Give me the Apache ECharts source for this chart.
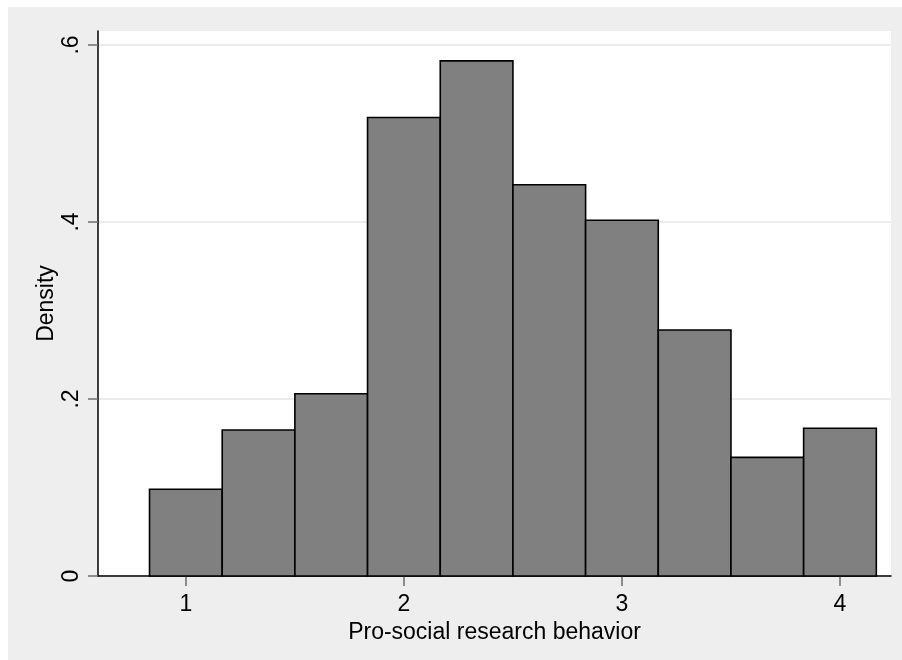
<!DOCTYPE html>
<html>
<head>
<meta charset="utf-8">
<script src="https://cdn.jsdelivr.net/npm/echarts@6/dist/echarts.min.js"></script>
<style>
html,body{margin:0;padding:0;background:#fff;}
#chart{width:902px;height:660px;}
</style>
</head>
<body>
<div id="chart"></div>
<script>
// Histogram bins (lower edges), common bin width, densities
var binStarts = [0.8333, 1.1667, 1.5, 1.8333, 2.1667, 2.5, 2.8333, 3.1667, 3.5, 3.8333];
var binWidth = 0.3333;
var densities = [0.098, 0.165, 0.206, 0.518, 0.582, 0.442, 0.402, 0.278, 0.134, 0.167];
var xTicks = [1, 2, 3, 4];
var yTicks = [0, 0.2, 0.4, 0.6];

var data = binStarts.map(function (s, i) { return [s, s + binWidth, densities[i]]; });

var chart = echarts.init(document.getElementById('chart'), null, {renderer: 'canvas'});
var font = 'Liberation Sans, Arial, sans-serif';
chart.setOption({
  animation: false,
  backgroundColor: '#fff',
  graphic: [{
    type: 'rect', z: -10, silent: true,
    shape: {x: 8, y: 7, width: 900, height: 660},
    style: {fill: '#eeeeee'}
  }],
  grid: {left: 98, top: 31, width: 793, height: 545, show: true, backgroundColor: '#fff', borderWidth: 0},
  xAxis: {
    type: 'value', min: 0.597, max: 4.234,
    name: 'Pro-social research behavior', nameLocation: 'middle', nameGap: 37,
    nameTextStyle: {fontFamily: font, fontSize: 23, color: '#000'},
    axisLine: {show: true, onZero: false, lineStyle: {color: '#000', width: 1.5}},
    axisTick: {show: true, customValues: xTicks, length: 10, lineStyle: {color: '#6e6e6e', width: 1.5}},
    axisLabel: {customValues: xTicks, margin: 17, fontFamily: font, fontSize: 23, color: '#000'},
    splitLine: {show: false}
  },
  yAxis: {
    type: 'value', min: 0, max: 0.6158,
    name: 'Density', nameLocation: 'middle', nameGap: 40, nameMoveOverlap: false,
    nameTextStyle: {fontFamily: font, fontSize: 23, color: '#000'},
    axisLine: {show: true, lineStyle: {color: '#000', width: 1.5}},
    axisTick: {show: true, customValues: yTicks, length: 10, lineStyle: {color: '#6e6e6e', width: 1.5}},
    axisLabel: {
      customValues: yTicks, rotate: 90, margin: 15, fontFamily: font, fontSize: 23, color: '#000',
      formatter: function (v) { return v === 0 ? '0' : String(v).replace(/^0/, ''); }
    },
    splitLine: {show: true, lineStyle: {color: '#e6e6e6', width: 1.5}}
  },
  series: [{
    type: 'custom',
    data: data,
    encode: {x: [0, 1], y: 2},
    renderItem: function (params, api) {
      var p0 = api.coord([api.value(0), api.value(2)]);
      var p1 = api.coord([api.value(1), 0]);
      return {
        type: 'rect',
        shape: {x: p0[0], y: p0[1], width: p1[0] - p0[0], height: p1[1] - p0[1]},
        style: {fill: '#808080', stroke: '#000', lineWidth: 1.6}
      };
    }
  }]
});
</script>
</body>
</html>
